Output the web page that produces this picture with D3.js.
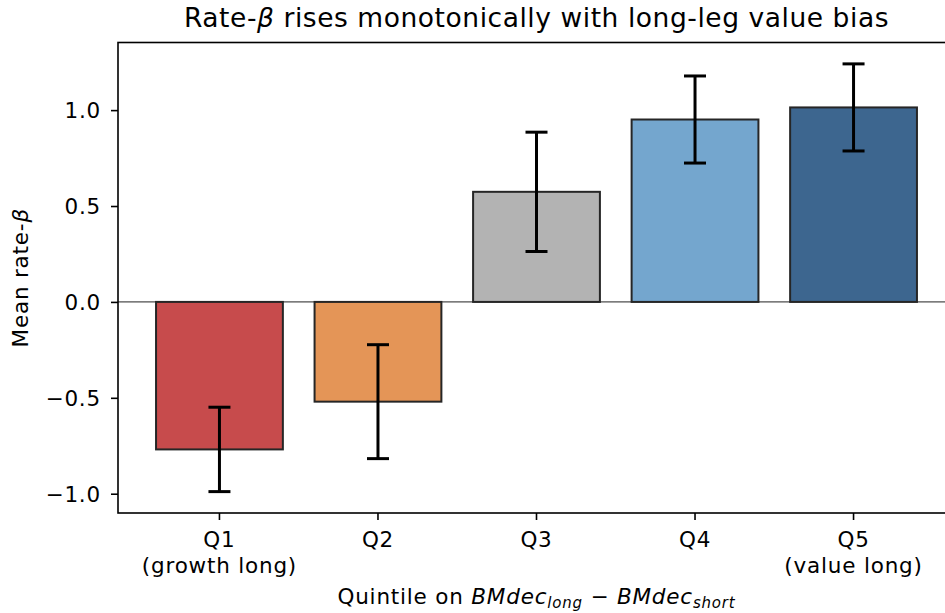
<!DOCTYPE html>
<html>
<head>
<meta charset="utf-8">
<script src="https://cdn.jsdelivr.net/npm/d3@7"></script>
<style>
  body { margin: 0; background: #fff; }
  svg { display: block; font-family: 'DejaVu Sans', sans-serif; }
</style>
</head>
<body>
<div id="chart"></div>
<script>
'use strict';

// values
var categories = ['Q1', 'Q2', 'Q3', 'Q4', 'Q5'];
var tickLabels = [['Q1', '(growth long)'], ['Q2'], ['Q3'], ['Q4'], ['Q5', '(value long)']];
var means = [-0.769, -0.52, 0.574, 0.951, 1.014];
var errors = [0.220, 0.297, 0.311, 0.227, 0.227];
var colors = ['#c74b4c', '#e49557', '#b3b3b3', '#74a6ce', '#3d668f'];
var yTicks = [-1.0, -0.5, 0.0, 0.5, 1.0];

var width = 945, height = 613;
var plot = {left: 118, right: 955, top: 42.5, bottom: 513};
var fs = 21.5, ls = '0.8px';

var svg = d3.select('#chart')
  .append('svg')
    .attr('width', width)
    .attr('height', height);

var data = categories.map(function(c, i){
  return {cat: c, mean: means[i], err: errors[i], color: colors[i], label: tickLabels[i]};
});

// matplotlib-ish 5% margins around the error bar extents
var lo = d3.min(data, function(d){ return d.mean - d.err; });
var hi = d3.max(data, function(d){ return d.mean + d.err; });
var pad = (hi - lo) * 0.05;

var x = d3.scaleBand()
  .domain(categories)
  .range([plot.left, plot.right])
  .paddingInner(0.2)
  .paddingOuter(0.24);

var y = d3.scaleLinear()
  .domain([lo - pad, hi + pad])
  .range([plot.bottom, plot.top]);

var cx = function(d){ return x(d.cat) + x.bandwidth() / 2; };

// zero line
svg.append('line')
  .attr('x1', plot.left).attr('x2', plot.right)
  .attr('y1', y(0)).attr('y2', y(0))
  .attr('stroke', '#222')
  .attr('stroke-width', 1);

// bars
svg.selectAll('rect.bar')
  .data(data)
  .enter().append('rect')
    .attr('class', 'bar')
    .attr('x', function(d){ return x(d.cat); })
    .attr('width', x.bandwidth())
    .attr('y', function(d){ return y(Math.max(0, d.mean)); })
    .attr('height', function(d){ return Math.abs(y(d.mean) - y(0)); })
    .attr('fill', function(d){ return d.color; })
    .attr('stroke', '#262626')
    .attr('stroke-width', 2);

// error bars
var err = svg.selectAll('g.err')
  .data(data)
  .enter().append('g')
    .attr('class', 'err')
    .attr('stroke', '#000')
    .attr('stroke-width', 3);

err.append('line')
  .attr('x1', cx).attr('x2', cx)
  .attr('y1', function(d){ return y(d.mean - d.err); })
  .attr('y2', function(d){ return y(d.mean + d.err); });

[-1, 1].forEach(function(s){
  err.append('line')
    .attr('x1', function(d){ return cx(d) - 11; })
    .attr('x2', function(d){ return cx(d) + 11; })
    .attr('y1', function(d){ return y(d.mean + s * d.err); })
    .attr('y2', function(d){ return y(d.mean + s * d.err); });
});

// y axis
var yAxis = svg.append('g')
  .attr('transform', 'translate(' + plot.left + ',0)')
  .call(d3.axisLeft(y)
    .tickValues(yTicks)
    .tickSize(7)
    .tickPadding(10)
    .tickFormat(function(d){ return d3.format('.1f')(d).replace('-', '\u2212'); }));

// x axis
var xAxis = svg.append('g')
  .attr('transform', 'translate(0,' + plot.bottom + ')')
  .call(d3.axisBottom(x).tickSize(7).tickFormat(''));

[yAxis, xAxis].forEach(function(a){
  a.select('.domain').remove();
  a.selectAll('.tick line').attr('stroke', '#000').attr('stroke-width', 1.6);
  a.selectAll('text').attr('font-size', fs).attr('fill', '#000')
    .attr('font-family', 'DejaVu Sans').style('letter-spacing', ls);
});
yAxis.selectAll('.tick text').attr('dy', '0.36em');

// two-line category labels
svg.selectAll('text.xtick')
  .data(data)
  .enter().append('text')
    .attr('class', 'xtick')
    .attr('text-anchor', 'middle')
    .attr('font-size', fs)
    .style('letter-spacing', ls)
    .attr('x', cx)
    .attr('y', 547)
    .each(function(d){
      var t = d3.select(this);
      d.label.forEach(function(line, i){
        t.append('tspan').attr('x', cx(d)).attr('dy', i === 0 ? 0 : 26).text(line);
      });
    });

// frame
svg.append('rect')
  .attr('x', plot.left).attr('y', plot.top)
  .attr('width', plot.right - plot.left)
  .attr('height', plot.bottom - plot.top)
  .attr('fill', 'none')
  .attr('stroke', '#000')
  .attr('stroke-width', 1.6);

// title
var title = svg.append('text')
  .attr('x', (plot.left + plot.right) / 2)
  .attr('y', 27)
  .attr('text-anchor', 'middle')
  .attr('font-size', 26.5)
  .style('letter-spacing', '0.55px');
title.append('tspan').text('Rate-');
title.append('tspan').attr('font-style', 'italic').text('\u03b2');
title.append('tspan').text(' rises monotonically with long-leg value bias');

// y label
var ylab = svg.append('text')
  .attr('transform', 'translate(28,' + (plot.top + plot.bottom) / 2 + ') rotate(-90)')
  .attr('text-anchor', 'middle')
  .attr('font-size', fs)
  .style('letter-spacing', ls);
ylab.append('tspan').text('Mean rate-');
ylab.append('tspan').attr('font-style', 'italic').text('\u03b2');

// x label with subscripts
var xlab = svg.append('text')
  .attr('x', (plot.left + plot.right) / 2)
  .attr('y', 604)
  .attr('text-anchor', 'middle')
  .attr('font-size', fs)
  .style('letter-spacing', ls);
xlab.append('tspan').text('Quintile on ');
xlab.append('tspan').attr('font-style', 'italic').text('BMdec');
xlab.append('tspan').attr('font-style', 'italic').attr('font-size', 15).attr('dy', 3.5).text('long');
xlab.append('tspan').attr('dy', -3.5).text(' \u2212 ');
xlab.append('tspan').attr('font-style', 'italic').text('BMdec');
xlab.append('tspan').attr('font-style', 'italic').attr('font-size', 15).attr('dy', 3.5).text('short');
</script>
</body>
</html>
